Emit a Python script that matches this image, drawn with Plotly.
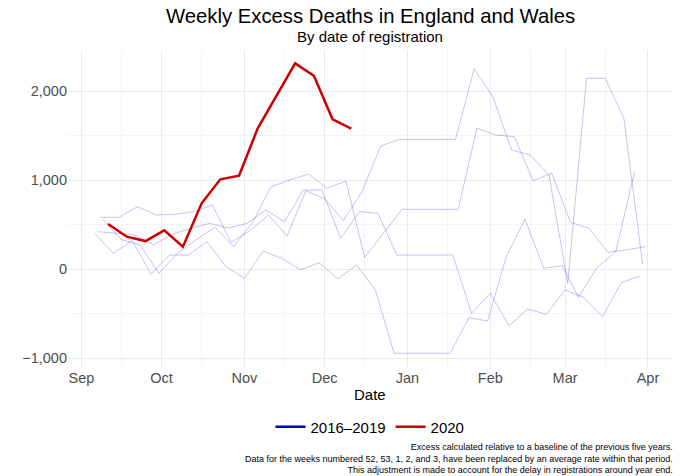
import pandas as pd
import plotly.graph_objects as go

# ---- data (weekly excess deaths, week-ending Fridays) ----
season_names = ["2016/17", "2017/18", "2018/19", "2019/20"]
season_starts = ["2016-09-09", "2017-09-08", "2018-09-07", "2019-09-06"]

excess_2016_17 = [560, 330, 270, -48, 176, 330, 470, 251, 520, 925,
                  1000, 1067, 906, 990, 130, 400, 671, 671, 671, 671,
                  1581, 1506, 1487, 992, 1075, 525, 457, 188, 215, 251]
excess_2017_18 = [581, 581, 700, 607, 614, 644, 719, 300, 430, 607,
                  371, 880, 790, 545, 869, 1382, 1457, 1457, 1457, 1457,
                  2250, 1936, 1337, 1281, 1056, -161, 2143, 2143, 1693, 56]
excess_2018_19 = [420, 401, 382, 270, 390, 457, 513, 460, 513, 663,
                  532, 888, 888, 345, 644, 626, 157, 157, 157, 157,
                  -498, -273, -637, -449, -509, -236, -318, -536, -154, -79]
excess_2019_20 = [401, 176, 320, -55, 157, 157, 307, 30, -105, 200,
                  120, -8, 70, -110, 45, -236, -947, -947, -947, -947,
                  -547, -584, 140, 560, 8, 37, -318, 19, 195, 1093]
season_values = [excess_2016_17, excess_2017_18, excess_2018_19, excess_2019_20]

start_2020 = "2020-09-11"
excess_2020 = [505, 363, 314, 435, 251, 738, 1008, 1048, 1581, 1950, 2311, 2172, 1682, 1577]


def weekly(start, n):
    return pd.date_range(start=start, periods=n, freq="7D")


def to_season_axis(dates):
    # map each date's month/day onto a common Sep 2020 - Aug 2021 axis
    out = []
    for d in dates:
        yr = 2020 if d.month >= 8 else 2021
        out.append(pd.Timestamp(year=yr, month=d.month, day=d.day))
    return out


fig = go.Figure()

for name, start, vals in zip(season_names, season_starts, season_values):
    fig.add_trace(go.Scatter(
        x=to_season_axis(weekly(start, len(vals))), y=vals, mode="lines",
        name=name, showlegend=False,
        line=dict(color="rgba(0,0,230,0.24)", width=1),
    ))

# legend key for the historic seasons
fig.add_trace(go.Scatter(x=[None], y=[None], mode="lines", name="2016\u20132019",
                         line=dict(color="#0000CC", width=2.5)))

fig.add_trace(go.Scatter(
    x=to_season_axis(weekly(start_2020, len(excess_2020))), y=excess_2020,
    mode="lines", name="2020", line=dict(color="#CC0000", width=2.5),
))

W, H = 680, 476
plot_top, plot_bottom = 50, 367
ph = plot_bottom - plot_top

fig.update_layout(
    width=W, height=H,
    margin=dict(l=68, r=8, t=plot_top, b=H - plot_bottom),
    paper_bgcolor="white", plot_bgcolor="white",
    hovermode=False,
    font=dict(family="Liberation Sans, Arial, sans-serif", color="#000000"),
    legend=dict(orientation="h", x=0.5, xanchor="center",
                y=(plot_bottom - 427) / ph, yanchor="middle",
                font=dict(size=15), itemwidth=30, traceorder="normal"),
    xaxis=dict(
        type="date", range=["2020-08-27", "2021-04-10"],
        tick0="2020-09-01", dtick="M1", tickformat="%b",
        showgrid=True, gridcolor="#EBEBEB", gridwidth=1.1,
        minor=dict(tick0="2020-08-16", dtick="M1", showgrid=True,
                   gridcolor="#F4F4F4", gridwidth=0.6),
        zeroline=False, showline=False, ticks="", ticklen=0,
        tickfont=dict(size=14.5, color="#4D4D4D"),
    ),
    yaxis=dict(
        range=[-1101, 2461], tick0=0, dtick=1000, tickformat=",",
        showgrid=True, gridcolor="#EBEBEB", gridwidth=1.1,
        minor=dict(tick0=500, dtick=1000, showgrid=True,
                   gridcolor="#F4F4F4", gridwidth=0.6),
        zeroline=False, showline=False, ticks="", ticklen=0,
        tickfont=dict(size=14.5, color="#4D4D4D"),
    ),
    annotations=[
        dict(text="Weekly Excess Deaths in England and Wales", xref="paper", yref="paper",
             x=0.5, y=1 + (plot_top - 16) / ph, xanchor="center", yanchor="middle",
             showarrow=False, font=dict(size=20.3, color="#000000")),
        dict(text="By date of registration", xref="paper", yref="paper",
             x=0.5, y=1 + (plot_top - 36) / ph, xanchor="center", yanchor="middle",
             showarrow=False, font=dict(size=15, color="#000000")),
        dict(text="Date", xref="paper", yref="paper",
             x=0.5, y=(plot_bottom - 394) / ph, xanchor="center", yanchor="middle",
             showarrow=False, font=dict(size=15, color="#000000")),
        dict(text="Excess calculated relative to a baseline of the previous five years.<br>"
                  "Data for the weeks numbered 52, 53, 1, 2, and 3, have been replaced by an average rate within that period.<br>"
                  "This adjustment is made to account for the delay in registrations around year end.",
             xref="paper", yref="paper", x=1.005, y=(plot_bottom - 458) / ph,
             xanchor="right", yanchor="middle", align="right", showarrow=False,
             font=dict(size=9, color="#000000")),
    ],
)

# remove the default 8px page margin so the figure fills the window exactly
fig.write_html("out.html", config={"displayModeBar": False},
               post_script="document.body.style.margin='0px';")
